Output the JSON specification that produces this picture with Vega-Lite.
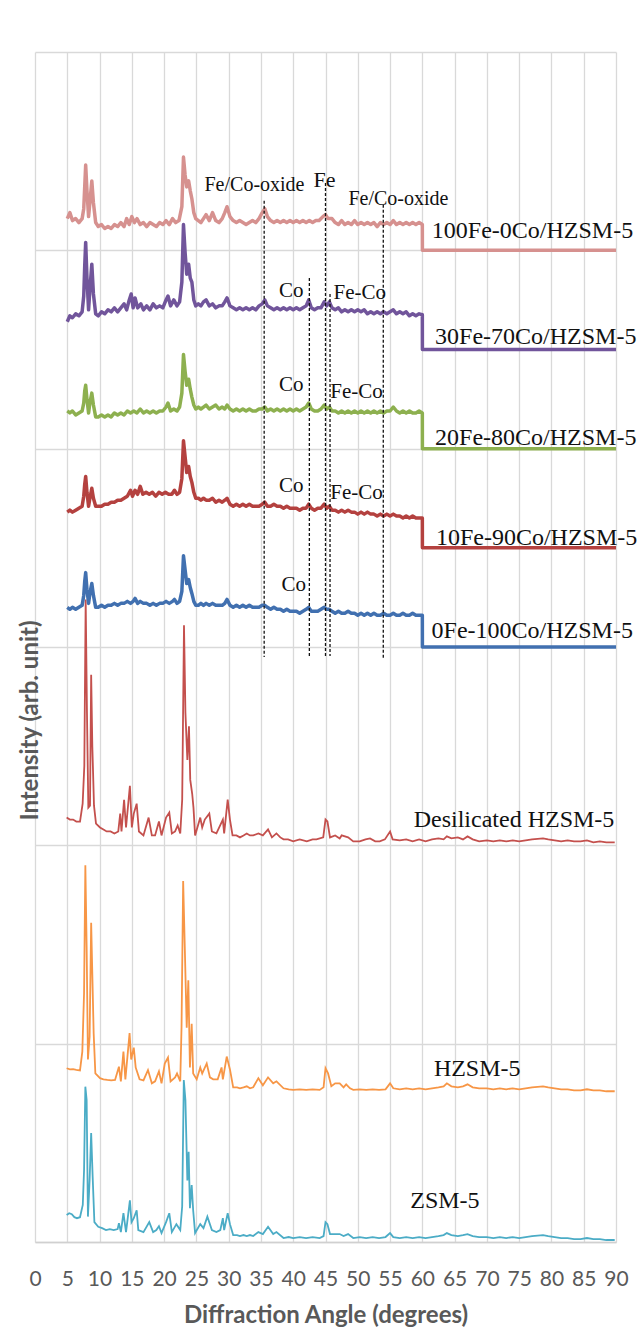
{
"$schema":"https://vega.github.io/schema/vega-lite/v6.json",
"width":581,"height":1190,
"autosize":{"type":"none"},
"padding":{"left":35,"top":52,"right":26,"bottom":98},
"background":"white",
"config":{"view":{"stroke":null}},
"datasets":{
"lines":[
{"s":"H","x":4.9,"y":0.136},{"s":"H","x":5.3,"y":0.145},{"s":"H","x":5.7,"y":0.14},{"s":"H","x":6.1,"y":0.125},{"s":"H","x":6.5,"y":0.12},{"s":"H","x":6.97,"y":0.125},{"s":"H","x":7.4,"y":0.187},{"s":"H","x":7.6,"y":0.363},{"s":"H","x":7.8,"y":0.783},{"s":"H","x":8.0,"y":0.716},{"s":"H","x":8.2,"y":0.128},{"s":"H","x":8.46,"y":0.313},{"s":"H","x":8.7,"y":0.55},{"s":"H","x":8.93,"y":0.33},{"s":"H","x":9.2,"y":0.1},{"s":"H","x":9.8,"y":0.077},{"s":"H","x":10.4,"y":0.07},{"s":"H","x":11.0,"y":0.06},{"s":"H","x":11.6,"y":0.065},{"s":"H","x":12.2,"y":0.06},{"s":"H","x":12.8,"y":0.065},{"s":"H","x":13.0,"y":0.095},{"s":"H","x":13.3,"y":0.05},{"s":"H","x":13.7,"y":0.145},{"s":"H","x":14.1,"y":0.05},{"s":"H","x":14.7,"y":0.21},{"s":"H","x":14.95,"y":0.1},{"s":"H","x":15.3,"y":0.12},{"s":"H","x":15.75,"y":0.16},{"s":"H","x":16.0,"y":0.06},{"s":"H","x":16.8,"y":0.05},{"s":"H","x":17.7,"y":0.1},{"s":"H","x":18.3,"y":0.05},{"s":"H","x":18.8,"y":0.06},{"s":"H","x":19.2,"y":0.08},{"s":"H","x":19.6,"y":0.045},{"s":"H","x":20.3,"y":0.1},{"s":"H","x":20.8,"y":0.145},{"s":"H","x":21.2,"y":0.05},{"s":"H","x":21.9,"y":0.09},{"s":"H","x":22.5,"y":0.06},{"s":"H","x":22.8,"y":0.18},{"s":"H","x":23.05,"y":0.817},{"s":"H","x":23.3,"y":0.716},{"s":"H","x":23.6,"y":0.31},{"s":"H","x":23.8,"y":0.455},{"s":"H","x":24.0,"y":0.17},{"s":"H","x":24.27,"y":0.287},{"s":"H","x":24.5,"y":0.16},{"s":"H","x":24.8,"y":0.045},{"s":"H","x":25.6,"y":0.09},{"s":"H","x":26.1,"y":0.07},{"s":"H","x":26.7,"y":0.128},{"s":"H","x":27.4,"y":0.06},{"s":"H","x":28.1,"y":0.05},{"s":"H","x":28.7,"y":0.06},{"s":"H","x":29.1,"y":0.12},{"s":"H","x":29.3,"y":0.06},{"s":"H","x":29.85,"y":0.145},{"s":"H","x":30.2,"y":0.09},{"s":"H","x":30.7,"y":0.035},{"s":"H","x":31.3,"y":0.035},{"s":"H","x":31.75,"y":0.03},{"s":"H","x":32.3,"y":0.035},{"s":"H","x":32.8,"y":0.03},{"s":"H","x":33.3,"y":0.035},{"s":"H","x":33.8,"y":0.03},{"s":"H","x":34.6,"y":0.05},{"s":"H","x":35.3,"y":0.04},{"s":"H","x":36.1,"y":0.077},{"s":"H","x":36.9,"y":0.04},{"s":"H","x":37.4,"y":0.05},{"s":"H","x":38.5,"y":0.02},{"s":"H","x":39.3,"y":0.025},{"s":"H","x":40.0,"y":0.02},{"s":"H","x":41.0,"y":0.025},{"s":"H","x":42.0,"y":0.02},{"s":"H","x":43.0,"y":0.025},{"s":"H","x":44.1,"y":0.02},{"s":"H","x":44.7,"y":0.03},{"s":"H","x":45.0,"y":0.1},{"s":"H","x":45.3,"y":0.09},{"s":"H","x":45.7,"y":0.04},{"s":"H","x":46.5,"y":0.04},{"s":"H","x":47.2,"y":0.04},{"s":"H","x":47.8,"y":0.03},{"s":"H","x":48.5,"y":0.04},{"s":"H","x":49.3,"y":0.02},{"s":"H","x":50.3,"y":0.025},{"s":"H","x":51.3,"y":0.02},{"s":"H","x":52.3,"y":0.025},{"s":"H","x":53.3,"y":0.02},{"s":"H","x":54.3,"y":0.025},{"s":"H","x":55.0,"y":0.045},{"s":"H","x":55.5,"y":0.025},{"s":"H","x":56.5,"y":0.02},{"s":"H","x":57.5,"y":0.025},{"s":"H","x":58.5,"y":0.02},{"s":"H","x":59.5,"y":0.025},{"s":"H","x":60.5,"y":0.02},{"s":"H","x":61.5,"y":0.025},{"s":"H","x":62.5,"y":0.03},{"s":"H","x":63.3,"y":0.035},{"s":"H","x":63.8,"y":0.045},{"s":"H","x":64.5,"y":0.035},{"s":"H","x":65.5,"y":0.03},{"s":"H","x":66.3,"y":0.035},{"s":"H","x":67.0,"y":0.04},{"s":"H","x":67.8,"y":0.03},{"s":"H","x":68.8,"y":0.025},{"s":"H","x":70,"y":0.025},{"s":"H","x":71,"y":0.02},{"s":"H","x":72,"y":0.025},{"s":"H","x":73,"y":0.02},{"s":"H","x":74,"y":0.025},{"s":"H","x":75,"y":0.02},{"s":"H","x":76,"y":0.025},{"s":"H","x":77,"y":0.03},{"s":"H","x":78.7,"y":0.035},{"s":"H","x":79.5,"y":0.03},{"s":"H","x":80.5,"y":0.025},{"s":"H","x":81.5,"y":0.02},{"s":"H","x":82.5,"y":0.02},{"s":"H","x":83.5,"y":0.015},{"s":"H","x":84.5,"y":0.015},{"s":"H","x":85.5,"y":0.02},{"s":"H","x":86.5,"y":0.015},{"s":"H","x":87.5,"y":0.015},{"s":"H","x":88.5,"y":0.01},{"s":"H","x":89.8,"y":0.01},
{"s":"G","x":4.9,"y":0.876},{"s":"G","x":5.4,"y":0.87},{"s":"G","x":5.9,"y":0.872},{"s":"G","x":6.4,"y":0.868},{"s":"G","x":6.97,"y":0.865},{"s":"G","x":7.33,"y":0.96},{"s":"G","x":7.6,"y":1.255},{"s":"G","x":7.8,"y":1.9},{"s":"G","x":8.0,"y":1.49},{"s":"G","x":8.2,"y":0.92},{"s":"G","x":8.46,"y":1.035},{"s":"G","x":8.7,"y":1.61},{"s":"G","x":8.88,"y":1.35},{"s":"G","x":9.09,"y":1.05},{"s":"G","x":9.35,"y":0.85},{"s":"G","x":10.07,"y":0.826},{"s":"G","x":10.6,"y":0.82},{"s":"G","x":11.2,"y":0.817},{"s":"G","x":11.8,"y":0.815},{"s":"G","x":12.4,"y":0.817},{"s":"G","x":13.0,"y":0.884},{"s":"G","x":13.3,"y":0.81},{"s":"G","x":13.7,"y":0.96},{"s":"G","x":14.0,"y":0.82},{"s":"G","x":14.65,"y":1.053},{"s":"G","x":14.9,"y":0.92},{"s":"G","x":15.3,"y":0.98},{"s":"G","x":15.6,"y":0.88},{"s":"G","x":16.2,"y":0.82},{"s":"G","x":16.8,"y":0.815},{"s":"G","x":17.5,"y":0.867},{"s":"G","x":18.1,"y":0.8},{"s":"G","x":18.6,"y":0.81},{"s":"G","x":19.2,"y":0.86},{"s":"G","x":19.6,"y":0.8},{"s":"G","x":20.1,"y":0.9},{"s":"G","x":20.6,"y":0.93},{"s":"G","x":21.0,"y":0.81},{"s":"G","x":21.7,"y":0.83},{"s":"G","x":22.0,"y":0.85},{"s":"G","x":22.5,"y":0.81},{"s":"G","x":22.7,"y":1.085},{"s":"G","x":22.95,"y":1.82},{"s":"G","x":23.2,"y":1.49},{"s":"G","x":23.5,"y":1.08},{"s":"G","x":23.75,"y":1.32},{"s":"G","x":24.0,"y":0.88},{"s":"G","x":24.27,"y":1.1},{"s":"G","x":24.5,"y":0.85},{"s":"G","x":25.05,"y":0.82},{"s":"G","x":25.6,"y":0.88},{"s":"G","x":25.9,"y":0.85},{"s":"G","x":26.6,"y":0.9},{"s":"G","x":27.1,"y":0.83},{"s":"G","x":27.6,"y":0.82},{"s":"G","x":28.3,"y":0.82},{"s":"G","x":28.9,"y":0.88},{"s":"G","x":29.1,"y":0.82},{"s":"G","x":29.7,"y":0.935},{"s":"G","x":30.2,"y":0.87},{"s":"G","x":30.7,"y":0.78},{"s":"G","x":31.3,"y":0.78},{"s":"G","x":31.75,"y":0.775},{"s":"G","x":32.3,"y":0.78},{"s":"G","x":32.8,"y":0.785},{"s":"G","x":33.3,"y":0.775},{"s":"G","x":33.8,"y":0.78},{"s":"G","x":34.6,"y":0.826},{"s":"G","x":35.3,"y":0.79},{"s":"G","x":36.1,"y":0.83},{"s":"G","x":36.9,"y":0.8},{"s":"G","x":37.4,"y":0.81},{"s":"G","x":38.5,"y":0.775},{"s":"G","x":39.3,"y":0.77},{"s":"G","x":40.0,"y":0.767},{"s":"G","x":41.0,"y":0.77},{"s":"G","x":42.0,"y":0.767},{"s":"G","x":43.0,"y":0.77},{"s":"G","x":44.1,"y":0.767},{"s":"G","x":44.7,"y":0.78},{"s":"G","x":45.0,"y":0.876},{"s":"G","x":45.4,"y":0.85},{"s":"G","x":45.9,"y":0.785},{"s":"G","x":46.5,"y":0.8},{"s":"G","x":47.2,"y":0.8},{"s":"G","x":47.8,"y":0.78},{"s":"G","x":48.2,"y":0.795},{"s":"G","x":48.8,"y":0.775},{"s":"G","x":49.3,"y":0.767},{"s":"G","x":50.3,"y":0.77},{"s":"G","x":51.3,"y":0.767},{"s":"G","x":52.3,"y":0.77},{"s":"G","x":53.3,"y":0.767},{"s":"G","x":54.3,"y":0.77},{"s":"G","x":55.0,"y":0.8},{"s":"G","x":55.5,"y":0.775},{"s":"G","x":56.5,"y":0.77},{"s":"G","x":57.5,"y":0.775},{"s":"G","x":58.5,"y":0.77},{"s":"G","x":59.5,"y":0.775},{"s":"G","x":60.5,"y":0.77},{"s":"G","x":61.5,"y":0.775},{"s":"G","x":62.5,"y":0.78},{"s":"G","x":63.3,"y":0.785},{"s":"G","x":63.8,"y":0.8},{"s":"G","x":64.5,"y":0.785},{"s":"G","x":65.5,"y":0.78},{"s":"G","x":66.3,"y":0.785},{"s":"G","x":67.0,"y":0.795},{"s":"G","x":67.8,"y":0.78},{"s":"G","x":68.8,"y":0.775},{"s":"G","x":70,"y":0.775},{"s":"G","x":71,"y":0.77},{"s":"G","x":72,"y":0.775},{"s":"G","x":73,"y":0.77},{"s":"G","x":74,"y":0.775},{"s":"G","x":75,"y":0.77},{"s":"G","x":76,"y":0.775},{"s":"G","x":77,"y":0.78},{"s":"G","x":78.7,"y":0.785},{"s":"G","x":79.5,"y":0.78},{"s":"G","x":80.5,"y":0.775},{"s":"G","x":81.5,"y":0.77},{"s":"G","x":82.5,"y":0.77},{"s":"G","x":83.5,"y":0.765},{"s":"G","x":84.5,"y":0.765},{"s":"G","x":85.5,"y":0.77},{"s":"G","x":86.5,"y":0.765},{"s":"G","x":87.5,"y":0.765},{"s":"G","x":88.5,"y":0.76},{"s":"G","x":89.8,"y":0.76},
{"s":"F","x":4.9,"y":2.14},{"s":"F","x":5.4,"y":2.13},{"s":"F","x":5.9,"y":2.13},{"s":"F","x":6.4,"y":2.12},{"s":"F","x":6.97,"y":2.12},{"s":"F","x":7.38,"y":2.21},{"s":"F","x":7.64,"y":2.4},{"s":"F","x":7.85,"y":3.24},{"s":"F","x":8.05,"y":2.67},{"s":"F","x":8.26,"y":2.19},{"s":"F","x":8.52,"y":2.2},{"s":"F","x":8.7,"y":2.86},{"s":"F","x":8.88,"y":2.5},{"s":"F","x":9.14,"y":2.2},{"s":"F","x":9.45,"y":2.11},{"s":"F","x":10.07,"y":2.09},{"s":"F","x":10.6,"y":2.08},{"s":"F","x":11.1,"y":2.07},{"s":"F","x":11.7,"y":2.07},{"s":"F","x":12.3,"y":2.06},{"s":"F","x":12.9,"y":2.07},{"s":"F","x":13.2,"y":2.16},{"s":"F","x":13.4,"y":2.07},{"s":"F","x":13.8,"y":2.23},{"s":"F","x":14.1,"y":2.09},{"s":"F","x":14.7,"y":2.3},{"s":"F","x":15.0,"y":2.09},{"s":"F","x":15.3,"y":2.16},{"s":"F","x":15.75,"y":2.21},{"s":"F","x":16.1,"y":2.07},{"s":"F","x":16.8,"y":2.05},{"s":"F","x":17.6,"y":2.14},{"s":"F","x":18.1,"y":2.05},{"s":"F","x":18.6,"y":2.05},{"s":"F","x":19.2,"y":2.12},{"s":"F","x":19.6,"y":2.05},{"s":"F","x":20.3,"y":2.14},{"s":"F","x":20.8,"y":2.165},{"s":"F","x":21.2,"y":2.06},{"s":"F","x":21.7,"y":2.07},{"s":"F","x":22.1,"y":2.1},{"s":"F","x":22.5,"y":2.06},{"s":"F","x":22.8,"y":2.23},{"s":"F","x":23.08,"y":3.11},{"s":"F","x":23.3,"y":2.67},{"s":"F","x":23.6,"y":2.43},{"s":"F","x":23.85,"y":2.6},{"s":"F","x":24.05,"y":2.33},{"s":"F","x":24.35,"y":2.26},{"s":"F","x":24.55,"y":2.19},{"s":"F","x":24.8,"y":2.05},{"s":"F","x":25.6,"y":2.14},{"s":"F","x":25.9,"y":2.09},{"s":"F","x":26.3,"y":2.13},{"s":"F","x":27.0,"y":2.16},{"s":"F","x":27.4,"y":2.07},{"s":"F","x":28.1,"y":2.06},{"s":"F","x":29.1,"y":2.13},{"s":"F","x":29.3,"y":2.06},{"s":"F","x":29.85,"y":2.23},{"s":"F","x":30.2,"y":2.13},{"s":"F","x":30.6,"y":2.05},{"s":"F","x":31.2,"y":2.05},{"s":"F","x":31.75,"y":2.04},{"s":"F","x":32.3,"y":2.05},{"s":"F","x":32.8,"y":2.06},{"s":"F","x":33.3,"y":2.05},{"s":"F","x":33.8,"y":2.05},{"s":"F","x":34.6,"y":2.06},{"s":"F","x":35.3,"y":2.05},{"s":"F","x":36.1,"y":2.08},{"s":"F","x":36.7,"y":2.04},{"s":"F","x":37.4,"y":2.06},{"s":"F","x":38.0,"y":2.04},{"s":"F","x":38.5,"y":2.03},{"s":"F","x":39.2,"y":2.03},{"s":"F","x":40.0,"y":2.02},{"s":"F","x":41.0,"y":2.03},{"s":"F","x":42.1,"y":2.02},{"s":"F","x":43.0,"y":2.03},{"s":"F","x":43.6,"y":2.03},{"s":"F","x":44.65,"y":2.04},{"s":"F","x":45.0,"y":2.13},{"s":"F","x":45.3,"y":2.12},{"s":"F","x":45.7,"y":2.04},{"s":"F","x":46.5,"y":2.05},{"s":"F","x":47.2,"y":2.035},{"s":"F","x":47.5,"y":2.05},{"s":"F","x":48.5,"y":2.04},{"s":"F","x":49.3,"y":2.02},{"s":"F","x":50.3,"y":2.02},{"s":"F","x":51.2,"y":2.03},{"s":"F","x":51.9,"y":2.035},{"s":"F","x":52.7,"y":2.02},{"s":"F","x":53.4,"y":2.02},{"s":"F","x":54.2,"y":2.03},{"s":"F","x":55.0,"y":2.07},{"s":"F","x":55.4,"y":2.03},{"s":"F","x":56.5,"y":2.025},{"s":"F","x":57.5,"y":2.03},{"s":"F","x":58.5,"y":2.02},{"s":"F","x":59.5,"y":2.03},{"s":"F","x":60.5,"y":2.02},{"s":"F","x":61.5,"y":2.03},{"s":"F","x":62.5,"y":2.035},{"s":"F","x":63.3,"y":2.03},{"s":"F","x":63.8,"y":2.045},{"s":"F","x":64.5,"y":2.035},{"s":"F","x":65.5,"y":2.04},{"s":"F","x":66.3,"y":2.03},{"s":"F","x":67.0,"y":2.045},{"s":"F","x":67.8,"y":2.03},{"s":"F","x":68.8,"y":2.02},{"s":"F","x":70,"y":2.025},{"s":"F","x":71,"y":2.02},{"s":"F","x":72,"y":2.025},{"s":"F","x":73,"y":2.02},{"s":"F","x":74,"y":2.025},{"s":"F","x":75,"y":2.02},{"s":"F","x":76,"y":2.025},{"s":"F","x":77,"y":2.03},{"s":"F","x":78.7,"y":2.035},{"s":"F","x":79.5,"y":2.03},{"s":"F","x":80.5,"y":2.025},{"s":"F","x":81.5,"y":2.02},{"s":"F","x":82.5,"y":2.025},{"s":"F","x":83.5,"y":2.02},{"s":"F","x":84.5,"y":2.02},{"s":"F","x":85.5,"y":2.025},{"s":"F","x":86.5,"y":2.015},{"s":"F","x":87.5,"y":2.02},{"s":"F","x":88.5,"y":2.015},{"s":"F","x":89.8,"y":2.015},
{"s":"E","x":5.0,"y":3.2},{"s":"E","x":5.4,"y":3.19},{"s":"E","x":5.8,"y":3.2},{"s":"E","x":6.3,"y":3.19},{"s":"E","x":6.8,"y":3.2},{"s":"E","x":7.3,"y":3.21},{"s":"E","x":7.55,"y":3.26},{"s":"E","x":7.7,"y":3.33},{"s":"E","x":7.85,"y":3.375},{"s":"E","x":8.05,"y":3.29},{"s":"E","x":8.3,"y":3.22},{"s":"E","x":8.5,"y":3.27},{"s":"E","x":8.8,"y":3.32},{"s":"E","x":9.05,"y":3.26},{"s":"E","x":9.4,"y":3.2},{"s":"E","x":9.8,"y":3.2},{"s":"E","x":10.3,"y":3.21},{"s":"E","x":10.8,"y":3.2},{"s":"E","x":11.3,"y":3.21},{"s":"E","x":11.8,"y":3.21},{"s":"E","x":12.3,"y":3.22},{"s":"E","x":12.8,"y":3.21},{"s":"E","x":13.3,"y":3.22},{"s":"E","x":13.8,"y":3.22},{"s":"E","x":14.3,"y":3.23},{"s":"E","x":14.8,"y":3.22},{"s":"E","x":15.2,"y":3.23},{"s":"E","x":15.5,"y":3.245},{"s":"E","x":15.9,"y":3.22},{"s":"E","x":16.3,"y":3.23},{"s":"E","x":16.8,"y":3.22},{"s":"E","x":17.3,"y":3.22},{"s":"E","x":17.8,"y":3.21},{"s":"E","x":18.3,"y":3.22},{"s":"E","x":18.8,"y":3.21},{"s":"E","x":19.3,"y":3.22},{"s":"E","x":19.8,"y":3.22},{"s":"E","x":20.3,"y":3.23},{"s":"E","x":20.8,"y":3.22},{"s":"E","x":21.3,"y":3.23},{"s":"E","x":21.6,"y":3.24},{"s":"E","x":22.0,"y":3.22},{"s":"E","x":22.4,"y":3.23},{"s":"E","x":22.75,"y":3.28},{"s":"E","x":23.0,"y":3.46},{"s":"E","x":23.25,"y":3.39},{"s":"E","x":23.5,"y":3.32},{"s":"E","x":23.8,"y":3.34},{"s":"E","x":24.05,"y":3.3},{"s":"E","x":24.3,"y":3.27},{"s":"E","x":24.6,"y":3.23},{"s":"E","x":24.9,"y":3.21},{"s":"E","x":25.3,"y":3.21},{"s":"E","x":25.7,"y":3.22},{"s":"E","x":26.1,"y":3.21},{"s":"E","x":26.5,"y":3.22},{"s":"E","x":27.0,"y":3.21},{"s":"E","x":27.5,"y":3.22},{"s":"E","x":28.0,"y":3.21},{"s":"E","x":28.5,"y":3.21},{"s":"E","x":29.0,"y":3.21},{"s":"E","x":29.4,"y":3.22},{"s":"E","x":29.75,"y":3.24},{"s":"E","x":30.2,"y":3.21},{"s":"E","x":30.7,"y":3.2},{"s":"E","x":31.2,"y":3.21},{"s":"E","x":31.7,"y":3.2},{"s":"E","x":32.2,"y":3.21},{"s":"E","x":32.7,"y":3.2},{"s":"E","x":33.2,"y":3.21},{"s":"E","x":33.7,"y":3.2},{"s":"E","x":34.2,"y":3.2},{"s":"E","x":34.7,"y":3.2},{"s":"E","x":35.2,"y":3.21},{"s":"E","x":35.6,"y":3.21},{"s":"E","x":36.0,"y":3.2},{"s":"E","x":36.5,"y":3.19},{"s":"E","x":37.0,"y":3.2},{"s":"E","x":37.5,"y":3.19},{"s":"E","x":38.0,"y":3.19},{"s":"E","x":38.5,"y":3.18},{"s":"E","x":39.0,"y":3.19},{"s":"E","x":39.5,"y":3.18},{"s":"E","x":40.0,"y":3.18},{"s":"E","x":40.5,"y":3.18},{"s":"E","x":41.0,"y":3.17},{"s":"E","x":41.5,"y":3.18},{"s":"E","x":42.0,"y":3.19},{"s":"E","x":42.4,"y":3.2},{"s":"E","x":42.8,"y":3.18},{"s":"E","x":43.3,"y":3.18},{"s":"E","x":43.8,"y":3.18},{"s":"E","x":44.3,"y":3.19},{"s":"E","x":44.8,"y":3.2},{"s":"E","x":45.2,"y":3.19},{"s":"E","x":45.6,"y":3.19},{"s":"E","x":46.0,"y":3.18},{"s":"E","x":46.5,"y":3.17},{"s":"E","x":47.0,"y":3.18},{"s":"E","x":47.5,"y":3.17},{"s":"E","x":48.0,"y":3.17},{"s":"E","x":48.5,"y":3.18},{"s":"E","x":49.0,"y":3.17},{"s":"E","x":49.5,"y":3.17},{"s":"E","x":50.0,"y":3.16},{"s":"E","x":50.5,"y":3.17},{"s":"E","x":51.0,"y":3.16},{"s":"E","x":51.5,"y":3.17},{"s":"E","x":52.0,"y":3.16},{"s":"E","x":52.5,"y":3.17},{"s":"E","x":53.0,"y":3.16},{"s":"E","x":53.5,"y":3.16},{"s":"E","x":54.0,"y":3.17},{"s":"E","x":54.5,"y":3.16},{"s":"E","x":55.0,"y":3.16},{"s":"E","x":55.5,"y":3.17},{"s":"E","x":56.0,"y":3.16},{"s":"E","x":56.5,"y":3.16},{"s":"E","x":57.0,"y":3.17},{"s":"E","x":57.5,"y":3.16},{"s":"E","x":58.0,"y":3.16},{"s":"E","x":58.5,"y":3.17},{"s":"E","x":59.0,"y":3.16},{"s":"E","x":59.5,"y":3.16},{"s":"E","x":60.0,"y":3.16},{"s":"E","x":60.01,"y":3.0},{"s":"E","x":90,"y":3.0},
{"s":"D","x":5.0,"y":3.68},{"s":"D","x":5.4,"y":3.69},{"s":"D","x":5.8,"y":3.68},{"s":"D","x":6.3,"y":3.69},{"s":"D","x":6.8,"y":3.7},{"s":"D","x":7.3,"y":3.71},{"s":"D","x":7.55,"y":3.76},{"s":"D","x":7.7,"y":3.82},{"s":"D","x":7.85,"y":3.86},{"s":"D","x":8.05,"y":3.78},{"s":"D","x":8.3,"y":3.71},{"s":"D","x":8.5,"y":3.75},{"s":"D","x":8.8,"y":3.8},{"s":"D","x":9.05,"y":3.75},{"s":"D","x":9.4,"y":3.71},{"s":"D","x":9.8,"y":3.71},{"s":"D","x":10.3,"y":3.71},{"s":"D","x":10.8,"y":3.72},{"s":"D","x":11.3,"y":3.72},{"s":"D","x":11.8,"y":3.73},{"s":"D","x":12.3,"y":3.73},{"s":"D","x":12.8,"y":3.74},{"s":"D","x":13.3,"y":3.74},{"s":"D","x":13.8,"y":3.75},{"s":"D","x":14.3,"y":3.76},{"s":"D","x":14.8,"y":3.79},{"s":"D","x":15.1,"y":3.76},{"s":"D","x":15.5,"y":3.79},{"s":"D","x":15.9,"y":3.77},{"s":"D","x":16.3,"y":3.81},{"s":"D","x":16.7,"y":3.77},{"s":"D","x":17.2,"y":3.78},{"s":"D","x":17.7,"y":3.77},{"s":"D","x":18.2,"y":3.78},{"s":"D","x":18.7,"y":3.76},{"s":"D","x":19.2,"y":3.78},{"s":"D","x":19.7,"y":3.77},{"s":"D","x":20.2,"y":3.78},{"s":"D","x":20.7,"y":3.77},{"s":"D","x":21.2,"y":3.77},{"s":"D","x":21.6,"y":3.79},{"s":"D","x":22.0,"y":3.77},{"s":"D","x":22.4,"y":3.78},{"s":"D","x":22.75,"y":3.85},{"s":"D","x":23.0,"y":4.04},{"s":"D","x":23.25,"y":3.96},{"s":"D","x":23.5,"y":3.88},{"s":"D","x":23.8,"y":3.91},{"s":"D","x":24.05,"y":3.86},{"s":"D","x":24.3,"y":3.83},{"s":"D","x":24.6,"y":3.78},{"s":"D","x":24.9,"y":3.75},{"s":"D","x":25.3,"y":3.75},{"s":"D","x":25.7,"y":3.74},{"s":"D","x":26.1,"y":3.75},{"s":"D","x":26.5,"y":3.74},{"s":"D","x":27.0,"y":3.74},{"s":"D","x":27.5,"y":3.75},{"s":"D","x":28.0,"y":3.73},{"s":"D","x":28.5,"y":3.74},{"s":"D","x":29.0,"y":3.73},{"s":"D","x":29.4,"y":3.74},{"s":"D","x":29.75,"y":3.75},{"s":"D","x":30.2,"y":3.72},{"s":"D","x":30.7,"y":3.71},{"s":"D","x":31.2,"y":3.72},{"s":"D","x":31.7,"y":3.71},{"s":"D","x":32.2,"y":3.72},{"s":"D","x":32.7,"y":3.71},{"s":"D","x":33.2,"y":3.72},{"s":"D","x":33.7,"y":3.71},{"s":"D","x":34.2,"y":3.71},{"s":"D","x":34.7,"y":3.71},{"s":"D","x":35.2,"y":3.72},{"s":"D","x":35.6,"y":3.73},{"s":"D","x":36.0,"y":3.71},{"s":"D","x":36.5,"y":3.71},{"s":"D","x":37.0,"y":3.72},{"s":"D","x":37.5,"y":3.71},{"s":"D","x":38.0,"y":3.71},{"s":"D","x":38.5,"y":3.7},{"s":"D","x":39.0,"y":3.71},{"s":"D","x":39.5,"y":3.7},{"s":"D","x":40.0,"y":3.7},{"s":"D","x":40.5,"y":3.7},{"s":"D","x":41.0,"y":3.69},{"s":"D","x":41.5,"y":3.7},{"s":"D","x":42.0,"y":3.7},{"s":"D","x":42.4,"y":3.72},{"s":"D","x":42.8,"y":3.7},{"s":"D","x":43.3,"y":3.69},{"s":"D","x":43.8,"y":3.7},{"s":"D","x":44.3,"y":3.7},{"s":"D","x":44.8,"y":3.72},{"s":"D","x":45.2,"y":3.7},{"s":"D","x":45.6,"y":3.71},{"s":"D","x":46.0,"y":3.69},{"s":"D","x":46.5,"y":3.69},{"s":"D","x":47.0,"y":3.68},{"s":"D","x":47.5,"y":3.69},{"s":"D","x":48.0,"y":3.68},{"s":"D","x":48.5,"y":3.69},{"s":"D","x":49.0,"y":3.68},{"s":"D","x":49.5,"y":3.68},{"s":"D","x":50.0,"y":3.67},{"s":"D","x":50.5,"y":3.68},{"s":"D","x":51.0,"y":3.67},{"s":"D","x":51.5,"y":3.68},{"s":"D","x":52.0,"y":3.67},{"s":"D","x":52.5,"y":3.67},{"s":"D","x":53.0,"y":3.66},{"s":"D","x":53.5,"y":3.67},{"s":"D","x":54.0,"y":3.66},{"s":"D","x":54.5,"y":3.67},{"s":"D","x":55.0,"y":3.66},{"s":"D","x":55.5,"y":3.67},{"s":"D","x":56.0,"y":3.66},{"s":"D","x":56.5,"y":3.66},{"s":"D","x":57.0,"y":3.65},{"s":"D","x":57.5,"y":3.66},{"s":"D","x":58.0,"y":3.65},{"s":"D","x":58.5,"y":3.66},{"s":"D","x":59.0,"y":3.65},{"s":"D","x":59.5,"y":3.65},{"s":"D","x":60.0,"y":3.65},{"s":"D","x":60.01,"y":3.5},{"s":"D","x":90,"y":3.5},
{"s":"C","x":5.0,"y":4.19},{"s":"C","x":5.4,"y":4.18},{"s":"C","x":5.8,"y":4.19},{"s":"C","x":6.3,"y":4.17},{"s":"C","x":6.8,"y":4.18},{"s":"C","x":7.3,"y":4.19},{"s":"C","x":7.55,"y":4.23},{"s":"C","x":7.7,"y":4.29},{"s":"C","x":7.85,"y":4.32},{"s":"C","x":8.05,"y":4.25},{"s":"C","x":8.3,"y":4.18},{"s":"C","x":8.5,"y":4.23},{"s":"C","x":8.8,"y":4.28},{"s":"C","x":9.05,"y":4.22},{"s":"C","x":9.4,"y":4.16},{"s":"C","x":9.8,"y":4.16},{"s":"C","x":10.3,"y":4.17},{"s":"C","x":10.8,"y":4.16},{"s":"C","x":11.3,"y":4.17},{"s":"C","x":11.8,"y":4.16},{"s":"C","x":12.3,"y":4.18},{"s":"C","x":12.8,"y":4.17},{"s":"C","x":13.3,"y":4.18},{"s":"C","x":13.8,"y":4.17},{"s":"C","x":14.3,"y":4.19},{"s":"C","x":14.8,"y":4.18},{"s":"C","x":15.3,"y":4.19},{"s":"C","x":15.8,"y":4.18},{"s":"C","x":16.3,"y":4.2},{"s":"C","x":16.8,"y":4.18},{"s":"C","x":17.3,"y":4.19},{"s":"C","x":17.8,"y":4.18},{"s":"C","x":18.3,"y":4.19},{"s":"C","x":18.8,"y":4.18},{"s":"C","x":19.3,"y":4.19},{"s":"C","x":19.8,"y":4.19},{"s":"C","x":20.3,"y":4.21},{"s":"C","x":20.6,"y":4.23},{"s":"C","x":21.0,"y":4.19},{"s":"C","x":21.5,"y":4.2},{"s":"C","x":22.0,"y":4.19},{"s":"C","x":22.4,"y":4.21},{"s":"C","x":22.75,"y":4.28},{"s":"C","x":23.0,"y":4.475},{"s":"C","x":23.25,"y":4.39},{"s":"C","x":23.5,"y":4.32},{"s":"C","x":23.8,"y":4.35},{"s":"C","x":24.05,"y":4.3},{"s":"C","x":24.3,"y":4.26},{"s":"C","x":24.6,"y":4.22},{"s":"C","x":24.9,"y":4.2},{"s":"C","x":25.3,"y":4.21},{"s":"C","x":25.7,"y":4.2},{"s":"C","x":26.1,"y":4.21},{"s":"C","x":26.5,"y":4.22},{"s":"C","x":27.0,"y":4.2},{"s":"C","x":27.5,"y":4.21},{"s":"C","x":28.0,"y":4.22},{"s":"C","x":28.5,"y":4.2},{"s":"C","x":29.0,"y":4.21},{"s":"C","x":29.4,"y":4.2},{"s":"C","x":29.75,"y":4.22},{"s":"C","x":30.2,"y":4.2},{"s":"C","x":30.7,"y":4.19},{"s":"C","x":31.2,"y":4.2},{"s":"C","x":31.7,"y":4.19},{"s":"C","x":32.2,"y":4.2},{"s":"C","x":32.7,"y":4.19},{"s":"C","x":33.2,"y":4.2},{"s":"C","x":33.7,"y":4.19},{"s":"C","x":34.2,"y":4.19},{"s":"C","x":34.7,"y":4.2},{"s":"C","x":35.2,"y":4.2},{"s":"C","x":35.6,"y":4.21},{"s":"C","x":36.0,"y":4.19},{"s":"C","x":36.5,"y":4.2},{"s":"C","x":37.0,"y":4.19},{"s":"C","x":37.5,"y":4.2},{"s":"C","x":38.0,"y":4.19},{"s":"C","x":38.5,"y":4.2},{"s":"C","x":39.0,"y":4.19},{"s":"C","x":39.5,"y":4.2},{"s":"C","x":40.0,"y":4.19},{"s":"C","x":40.5,"y":4.2},{"s":"C","x":41.0,"y":4.19},{"s":"C","x":41.5,"y":4.2},{"s":"C","x":42.0,"y":4.21},{"s":"C","x":42.4,"y":4.23},{"s":"C","x":42.8,"y":4.2},{"s":"C","x":43.3,"y":4.19},{"s":"C","x":43.8,"y":4.19},{"s":"C","x":44.3,"y":4.2},{"s":"C","x":44.8,"y":4.22},{"s":"C","x":45.2,"y":4.2},{"s":"C","x":45.6,"y":4.21},{"s":"C","x":46.0,"y":4.19},{"s":"C","x":46.5,"y":4.19},{"s":"C","x":47.0,"y":4.18},{"s":"C","x":47.5,"y":4.19},{"s":"C","x":48.0,"y":4.18},{"s":"C","x":48.5,"y":4.19},{"s":"C","x":49.0,"y":4.18},{"s":"C","x":49.5,"y":4.19},{"s":"C","x":50.0,"y":4.18},{"s":"C","x":50.5,"y":4.19},{"s":"C","x":51.0,"y":4.18},{"s":"C","x":51.5,"y":4.19},{"s":"C","x":52.0,"y":4.18},{"s":"C","x":52.5,"y":4.19},{"s":"C","x":53.0,"y":4.18},{"s":"C","x":53.5,"y":4.19},{"s":"C","x":54.0,"y":4.18},{"s":"C","x":54.5,"y":4.19},{"s":"C","x":55.0,"y":4.19},{"s":"C","x":55.5,"y":4.21},{"s":"C","x":56.0,"y":4.19},{"s":"C","x":56.5,"y":4.18},{"s":"C","x":57.0,"y":4.19},{"s":"C","x":57.5,"y":4.18},{"s":"C","x":58.0,"y":4.19},{"s":"C","x":58.5,"y":4.18},{"s":"C","x":59.0,"y":4.18},{"s":"C","x":59.5,"y":4.19},{"s":"C","x":60.0,"y":4.18},{"s":"C","x":60.01,"y":4.0},{"s":"C","x":90,"y":4.0},
{"s":"B","x":5.0,"y":4.64},{"s":"B","x":5.4,"y":4.67},{"s":"B","x":5.8,"y":4.66},{"s":"B","x":6.3,"y":4.68},{"s":"B","x":6.8,"y":4.67},{"s":"B","x":7.3,"y":4.69},{"s":"B","x":7.55,"y":4.77},{"s":"B","x":7.7,"y":4.92},{"s":"B","x":7.85,"y":5.04},{"s":"B","x":8.05,"y":4.86},{"s":"B","x":8.3,"y":4.7},{"s":"B","x":8.5,"y":4.8},{"s":"B","x":8.8,"y":4.93},{"s":"B","x":9.05,"y":4.78},{"s":"B","x":9.4,"y":4.68},{"s":"B","x":9.8,"y":4.67},{"s":"B","x":10.3,"y":4.69},{"s":"B","x":10.8,"y":4.68},{"s":"B","x":11.3,"y":4.7},{"s":"B","x":11.8,"y":4.69},{"s":"B","x":12.3,"y":4.71},{"s":"B","x":12.8,"y":4.69},{"s":"B","x":13.3,"y":4.71},{"s":"B","x":13.8,"y":4.73},{"s":"B","x":14.2,"y":4.7},{"s":"B","x":14.6,"y":4.75},{"s":"B","x":14.9,"y":4.78},{"s":"B","x":15.2,"y":4.71},{"s":"B","x":15.5,"y":4.76},{"s":"B","x":15.9,"y":4.71},{"s":"B","x":16.4,"y":4.73},{"s":"B","x":16.8,"y":4.7},{"s":"B","x":17.3,"y":4.72},{"s":"B","x":17.8,"y":4.7},{"s":"B","x":18.3,"y":4.73},{"s":"B","x":18.8,"y":4.71},{"s":"B","x":19.3,"y":4.72},{"s":"B","x":19.8,"y":4.71},{"s":"B","x":20.3,"y":4.75},{"s":"B","x":20.6,"y":4.77},{"s":"B","x":21.0,"y":4.72},{"s":"B","x":21.5,"y":4.75},{"s":"B","x":22.0,"y":4.72},{"s":"B","x":22.4,"y":4.74},{"s":"B","x":22.75,"y":4.84},{"s":"B","x":23.0,"y":5.13},{"s":"B","x":23.25,"y":4.99},{"s":"B","x":23.5,"y":4.88},{"s":"B","x":23.8,"y":4.93},{"s":"B","x":24.05,"y":4.86},{"s":"B","x":24.3,"y":4.84},{"s":"B","x":24.6,"y":4.75},{"s":"B","x":24.9,"y":4.72},{"s":"B","x":25.3,"y":4.73},{"s":"B","x":25.7,"y":4.72},{"s":"B","x":26.1,"y":4.74},{"s":"B","x":26.5,"y":4.75},{"s":"B","x":27.0,"y":4.72},{"s":"B","x":27.5,"y":4.73},{"s":"B","x":28.0,"y":4.71},{"s":"B","x":28.5,"y":4.72},{"s":"B","x":29.0,"y":4.72},{"s":"B","x":29.4,"y":4.74},{"s":"B","x":29.75,"y":4.76},{"s":"B","x":30.2,"y":4.72},{"s":"B","x":30.7,"y":4.71},{"s":"B","x":31.2,"y":4.7},{"s":"B","x":31.7,"y":4.71},{"s":"B","x":32.2,"y":4.7},{"s":"B","x":32.7,"y":4.71},{"s":"B","x":33.2,"y":4.7},{"s":"B","x":33.7,"y":4.71},{"s":"B","x":34.2,"y":4.7},{"s":"B","x":34.7,"y":4.72},{"s":"B","x":35.2,"y":4.73},{"s":"B","x":35.6,"y":4.75},{"s":"B","x":36.0,"y":4.72},{"s":"B","x":36.5,"y":4.71},{"s":"B","x":37.0,"y":4.7},{"s":"B","x":37.5,"y":4.71},{"s":"B","x":38.0,"y":4.7},{"s":"B","x":38.5,"y":4.71},{"s":"B","x":39.0,"y":4.7},{"s":"B","x":39.5,"y":4.71},{"s":"B","x":40.0,"y":4.7},{"s":"B","x":40.5,"y":4.71},{"s":"B","x":41.0,"y":4.7},{"s":"B","x":41.5,"y":4.71},{"s":"B","x":42.0,"y":4.72},{"s":"B","x":42.4,"y":4.75},{"s":"B","x":42.8,"y":4.71},{"s":"B","x":43.3,"y":4.7},{"s":"B","x":43.8,"y":4.71},{"s":"B","x":44.3,"y":4.71},{"s":"B","x":44.8,"y":4.74},{"s":"B","x":45.2,"y":4.72},{"s":"B","x":45.6,"y":4.74},{"s":"B","x":46.0,"y":4.71},{"s":"B","x":46.5,"y":4.7},{"s":"B","x":47.0,"y":4.71},{"s":"B","x":47.5,"y":4.69},{"s":"B","x":48.0,"y":4.7},{"s":"B","x":48.5,"y":4.69},{"s":"B","x":49.0,"y":4.7},{"s":"B","x":49.5,"y":4.69},{"s":"B","x":50.0,"y":4.7},{"s":"B","x":50.5,"y":4.69},{"s":"B","x":51.0,"y":4.7},{"s":"B","x":51.5,"y":4.68},{"s":"B","x":52.0,"y":4.69},{"s":"B","x":52.5,"y":4.68},{"s":"B","x":53.0,"y":4.69},{"s":"B","x":53.5,"y":4.68},{"s":"B","x":54.0,"y":4.69},{"s":"B","x":54.5,"y":4.68},{"s":"B","x":55.0,"y":4.69},{"s":"B","x":55.5,"y":4.7},{"s":"B","x":56.0,"y":4.68},{"s":"B","x":56.5,"y":4.69},{"s":"B","x":57.0,"y":4.68},{"s":"B","x":57.5,"y":4.69},{"s":"B","x":58.0,"y":4.67},{"s":"B","x":58.5,"y":4.68},{"s":"B","x":59.0,"y":4.67},{"s":"B","x":59.5,"y":4.68},{"s":"B","x":60.0,"y":4.675},{"s":"B","x":60.01,"y":4.5},{"s":"B","x":90,"y":4.5},
{"s":"A","x":5.0,"y":5.16},{"s":"A","x":5.4,"y":5.19},{"s":"A","x":5.8,"y":5.15},{"s":"A","x":6.3,"y":5.16},{"s":"A","x":6.8,"y":5.14},{"s":"A","x":7.3,"y":5.16},{"s":"A","x":7.55,"y":5.21},{"s":"A","x":7.7,"y":5.32},{"s":"A","x":7.85,"y":5.43},{"s":"A","x":8.05,"y":5.3},{"s":"A","x":8.3,"y":5.17},{"s":"A","x":8.5,"y":5.24},{"s":"A","x":8.8,"y":5.35},{"s":"A","x":9.05,"y":5.24},{"s":"A","x":9.4,"y":5.14},{"s":"A","x":9.8,"y":5.12},{"s":"A","x":10.3,"y":5.13},{"s":"A","x":10.8,"y":5.11},{"s":"A","x":11.3,"y":5.12},{"s":"A","x":11.8,"y":5.11},{"s":"A","x":12.3,"y":5.13},{"s":"A","x":12.8,"y":5.12},{"s":"A","x":13.3,"y":5.14},{"s":"A","x":13.8,"y":5.12},{"s":"A","x":14.2,"y":5.16},{"s":"A","x":14.6,"y":5.13},{"s":"A","x":15.0,"y":5.17},{"s":"A","x":15.4,"y":5.14},{"s":"A","x":15.8,"y":5.16},{"s":"A","x":16.3,"y":5.13},{"s":"A","x":16.8,"y":5.14},{"s":"A","x":17.3,"y":5.12},{"s":"A","x":17.8,"y":5.14},{"s":"A","x":18.3,"y":5.13},{"s":"A","x":18.8,"y":5.12},{"s":"A","x":19.3,"y":5.14},{"s":"A","x":19.8,"y":5.13},{"s":"A","x":20.3,"y":5.15},{"s":"A","x":20.8,"y":5.13},{"s":"A","x":21.3,"y":5.16},{"s":"A","x":21.8,"y":5.14},{"s":"A","x":22.3,"y":5.15},{"s":"A","x":22.75,"y":5.22},{"s":"A","x":23.0,"y":5.47},{"s":"A","x":23.25,"y":5.38},{"s":"A","x":23.5,"y":5.32},{"s":"A","x":23.8,"y":5.35},{"s":"A","x":24.05,"y":5.3},{"s":"A","x":24.3,"y":5.26},{"s":"A","x":24.6,"y":5.19},{"s":"A","x":24.9,"y":5.16},{"s":"A","x":25.3,"y":5.15},{"s":"A","x":25.7,"y":5.14},{"s":"A","x":26.1,"y":5.16},{"s":"A","x":26.5,"y":5.18},{"s":"A","x":27.0,"y":5.15},{"s":"A","x":27.5,"y":5.19},{"s":"A","x":28.0,"y":5.15},{"s":"A","x":28.5,"y":5.14},{"s":"A","x":29.0,"y":5.16},{"s":"A","x":29.4,"y":5.19},{"s":"A","x":29.75,"y":5.22},{"s":"A","x":30.2,"y":5.17},{"s":"A","x":30.7,"y":5.15},{"s":"A","x":31.2,"y":5.14},{"s":"A","x":31.7,"y":5.15},{"s":"A","x":32.2,"y":5.14},{"s":"A","x":32.7,"y":5.13},{"s":"A","x":33.2,"y":5.14},{"s":"A","x":33.7,"y":5.15},{"s":"A","x":34.2,"y":5.14},{"s":"A","x":34.7,"y":5.16},{"s":"A","x":35.2,"y":5.19},{"s":"A","x":35.6,"y":5.21},{"s":"A","x":36.0,"y":5.17},{"s":"A","x":36.5,"y":5.15},{"s":"A","x":37.0,"y":5.14},{"s":"A","x":37.5,"y":5.15},{"s":"A","x":38.0,"y":5.14},{"s":"A","x":38.5,"y":5.15},{"s":"A","x":39.0,"y":5.14},{"s":"A","x":39.5,"y":5.15},{"s":"A","x":40.0,"y":5.14},{"s":"A","x":40.5,"y":5.15},{"s":"A","x":41.0,"y":5.14},{"s":"A","x":41.5,"y":5.15},{"s":"A","x":42.0,"y":5.14},{"s":"A","x":42.5,"y":5.15},{"s":"A","x":43.0,"y":5.14},{"s":"A","x":43.5,"y":5.15},{"s":"A","x":44.0,"y":5.15},{"s":"A","x":44.6,"y":5.17},{"s":"A","x":45.0,"y":5.18},{"s":"A","x":45.4,"y":5.16},{"s":"A","x":46.0,"y":5.16},{"s":"A","x":46.5,"y":5.14},{"s":"A","x":47.0,"y":5.13},{"s":"A","x":47.5,"y":5.15},{"s":"A","x":48.0,"y":5.13},{"s":"A","x":48.5,"y":5.14},{"s":"A","x":49.0,"y":5.13},{"s":"A","x":49.5,"y":5.15},{"s":"A","x":50.0,"y":5.13},{"s":"A","x":50.5,"y":5.14},{"s":"A","x":51.0,"y":5.13},{"s":"A","x":51.5,"y":5.14},{"s":"A","x":52.0,"y":5.13},{"s":"A","x":52.5,"y":5.14},{"s":"A","x":53.0,"y":5.12},{"s":"A","x":53.5,"y":5.14},{"s":"A","x":54.0,"y":5.13},{"s":"A","x":54.5,"y":5.14},{"s":"A","x":55.0,"y":5.13},{"s":"A","x":55.5,"y":5.15},{"s":"A","x":56.0,"y":5.13},{"s":"A","x":56.5,"y":5.14},{"s":"A","x":57.0,"y":5.13},{"s":"A","x":57.5,"y":5.14},{"s":"A","x":58.0,"y":5.13},{"s":"A","x":58.5,"y":5.14},{"s":"A","x":59.0,"y":5.13},{"s":"A","x":59.5,"y":5.14},{"s":"A","x":60.0,"y":5.13},{"s":"A","x":60.01,"y":5.0},{"s":"A","x":90,"y":5.0}
],
"rules":[
{"x":35.5,"y":5.25,"y2":2.95},{"x":42.5,"y":4.86,"y2":2.945},{"x":45.0,"y":5.34,"y2":2.955},{"x":45.7,"y":4.78,"y2":2.955},{"x":53.95,"y":5.23,"y2":2.94}
],
"labels":[
{"t":"100Fe-0Co/HZSM-5","x":77.06,"y":5.06},{"t":"30Fe-70Co/HZSM-5","x":77.57,"y":4.53},{"t":"20Fe-80Co/HZSM-5","x":77.57,"y":4.02},{"t":"10Fe-90Co/HZSM-5","x":77.7,"y":3.515},{"t":"0Fe-100Co/HZSM-5","x":77.03,"y":3.044},{"t":"Desilicated HZSM-5","x":74.2,"y":2.094},{"t":"HZSM-5","x":68.5,"y":0.837},{"t":"ZSM-5","x":63.5,"y":0.17}
],
"oxide":[
{"t":"Fe/Co-oxide","x":34.0,"y":5.3},{"t":"Fe/Co-oxide","x":56.3,"y":5.23}
],
"fe":[
{"t":"Fe","x":44.84,"y":5.32}
],
"ann":[
{"t":"Co","x":39.7,"y":4.766},{"t":"Fe-Co","x":50.3,"y":4.754},{"t":"Co","x":39.7,"y":4.29},{"t":"Fe-Co","x":49.8,"y":4.255},{"t":"Co","x":39.7,"y":3.78},{"t":"Fe-Co","x":49.8,"y":3.745},{"t":"Co","x":40.1,"y":3.28}
]
},
"encoding":{
"x":{"field":"x","type":"quantitative","scale":{"domain":[0,90],"nice":false,"zero":false},
"axis":{"values":[0,5,10,15,20,25,30,35,40,45,50,55,60,65,70,75,80,85,90],"grid":true,"gridColor":"#d9d9d9","gridWidth":1.3,"ticks":false,"tickSize":0,"domain":true,"domainColor":"#d0d0d0","domainWidth":1.6,"labelFont":"Lato","labelFontSize":21,"labelColor":"#595959","labelPadding":26,"labelOverlap":false,"labelFlush":false,"title":"Diffraction Angle (degrees)","titleFont":"Lato","titleFontSize":24,"titleFontWeight":"bold","titleColor":"#595959","titleBaseline":"alphabetic","titleY":80,"titleX":290.5}},
"y":{"field":"y","type":"quantitative","scale":{"domain":[0,6],"nice":false,"zero":false},
"axis":{"values":[0,1,2,3,4,5,6],"grid":true,"gridColor":"#d9d9d9","gridWidth":1.3,"ticks":false,"labels":false,"domain":false,"title":"Intensity (arb. unit)","titleFont":"Lato","titleFontSize":24,"titleFontWeight":"bold","titleColor":"#595959","titleAngle":-90,"titleBaseline":"alphabetic","titleX":2,"titleY":668,"titleAlign":"center"}}
},
"layer":[
{"data":{"name":"lines"},"transform":[{"filter":{"field":"s","oneOf":["F","G","H"]}}],
"mark":{"type":"line","strokeWidth":1.8,"interpolate":"linear"},
"encoding":{"color":{"field":"s","type":"nominal","scale":{"domain":["A","B","C","D","E","F","G","H"],"range":["#d6918f","#71559b","#8db04f","#b4413f","#4170b0","#c4504d","#f79646","#4bacc6"]},"legend":null},"detail":{"field":"s"}}},
{"data":{"name":"lines"},"transform":[{"filter":{"field":"s","oneOf":["A","B","C","D","E"]}}],
"mark":{"type":"line","strokeWidth":3.5,"interpolate":"linear","strokeJoin":"round"},
"encoding":{"color":{"field":"s","type":"nominal","scale":{"domain":["A","B","C","D","E","F","G","H"],"range":["#d6918f","#71559b","#8db04f","#b4413f","#4170b0","#c4504d","#f79646","#4bacc6"]},"legend":null},"detail":{"field":"s"}}},
{"data":{"name":"rules"},"mark":{"type":"rule","color":"#111111","strokeWidth":1.3,"strokeDash":[3,2]},
"encoding":{"y":{"field":"y","type":"quantitative"},"y2":{"field":"y2"}}},
{"data":{"name":"labels"},"mark":{"type":"text","font":"Liberation Serif","fontSize":24,"color":"#111111","align":"center","baseline":"alphabetic"},
"encoding":{"text":{"field":"t"}}},
{"data":{"name":"oxide"},"mark":{"type":"text","font":"Liberation Serif","fontSize":20,"color":"#111111","align":"center","baseline":"alphabetic"},
"encoding":{"text":{"field":"t"}}},
{"data":{"name":"fe"},"mark":{"type":"text","font":"Liberation Serif","fontSize":22,"color":"#111111","align":"center","baseline":"alphabetic"},
"encoding":{"text":{"field":"t"}}},
{"data":{"name":"ann"},"mark":{"type":"text","font":"Liberation Serif","fontSize":21,"color":"#111111","align":"center","baseline":"alphabetic"},
"encoding":{"text":{"field":"t"}}}
]
}
